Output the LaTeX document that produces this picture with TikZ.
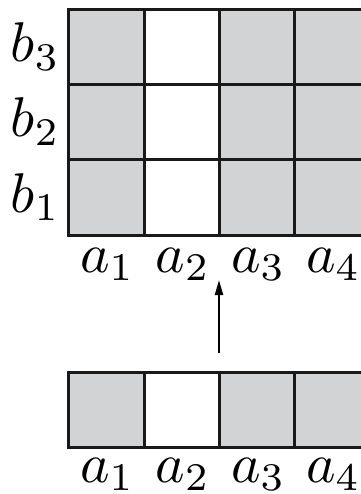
\documentclass[tikz,border=0pt]{standalone}
\usetikzlibrary{arrows.meta}
\definecolor{cellgray}{RGB}{209,211,213}
\begin{document}
\begin{tikzpicture}[x=1pt,y=-1pt,
  cell/.style={draw=black!90, line width=3pt, minimum width=75.5pt, minimum height=75.5pt, inner sep=0pt, outer sep=0pt},
  graycell/.style={cell, fill=cellgray},
  whitecell/.style={cell, fill=white},
  lab/.style={inner sep=0pt, scale=5.6},
  conn/.style={line width=2.2pt, -{Triangle[length=15pt,width=8pt]}}]
\useasboundingbox (0,0) rectangle (360,494);
% top grid
\foreach \r/\y in {3/47.25,2/122.5,1/197.5}{
  \node[graycell] (g1\r) at (106.25,\y) {};
  \node[whitecell] (g2\r) at (181.75,\y) {};
  \node[graycell] (g3\r) at (257,\y) {};
  \node[graycell] (g4\r) at (332.25,\y) {};
}
% bottom strip
\node[graycell] (s1) at (106.25,410) {};
\node[whitecell] (s2) at (181.75,410) {};
\node[graycell] (s3) at (257,410) {};
\node[graycell] (s4) at (332.25,410) {};
% row labels
\node[lab, anchor=base east] (b3) at (61,62) {$b_3$};
\node[lab, anchor=base east] (b2) at (61,137) {$b_2$};
\node[lab, anchor=base east] (b1) at (61,212) {$b_1$};
% column labels (grid)
\node[lab, anchor=base] (ta1) at (107.5,272) {$a_1$};
\node[lab, anchor=base] (ta2) at (183,272) {$a_2$};
\node[lab, anchor=base] (ta3) at (258.5,272) {$a_3$};
\node[lab, anchor=base] (ta4) at (333.5,272) {$a_4$};
% column labels (strip)
\node[lab, anchor=base] (ba1) at (107.5,482) {$a_1$};
\node[lab, anchor=base] (ba2) at (183,482) {$a_2$};
\node[lab, anchor=base] (ba3) at (258.5,482) {$a_3$};
\node[lab, anchor=base] (ba4) at (333.5,482) {$a_4$};
% arrow
\coordinate (from) at (219,353);
\coordinate (to) at (219,280);
\draw[conn] (from) -- (to);
\end{tikzpicture}
\end{document}
